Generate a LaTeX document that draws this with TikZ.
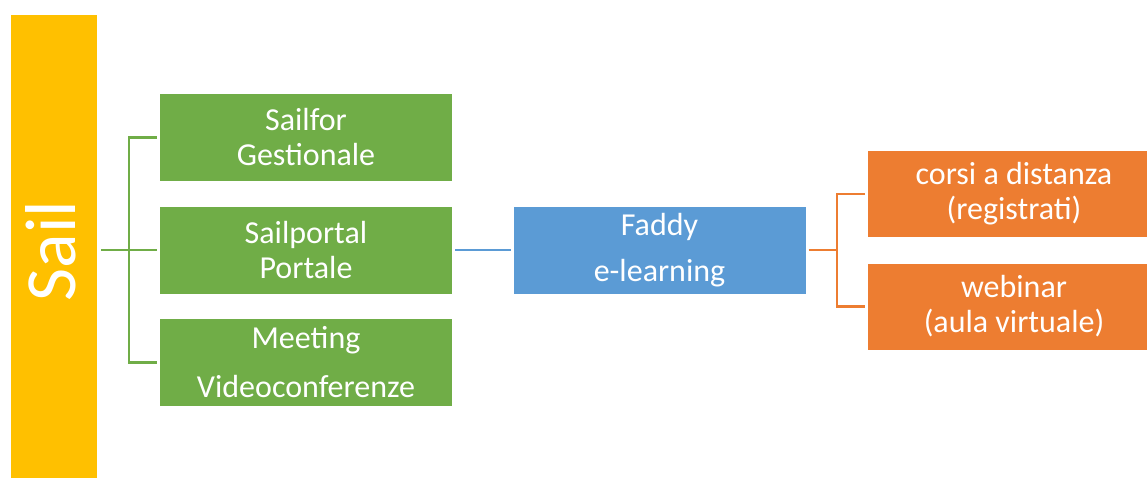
\documentclass[tikz,border=0pt]{standalone}
\usepackage{fontspec}
\setmainfont{Carlito}
\usetikzlibrary{positioning}
\definecolor{Y}{RGB}{255, 192, 0}
\definecolor{G}{RGB}{112, 173, 71}
\definecolor{B}{RGB}{91, 155, 213}
\definecolor{O}{RGB}{237, 125, 49}

\begin{document}
\begin{tikzpicture}[x=1pt,y=-1pt,
    caja/.style={fill=#1, text=white, minimum width=292pt, minimum height=87pt,
      inner sep=0pt, outer sep=3pt, align=center, font=\fontsize{32}{35}\selectfont},
    rama/.style={draw=#1, line width=2.5pt}]
   	\useasboundingbox (0,0) rectangle (1147,479);

	%Barra Sail
   	\node[fill=Y, minimum width=86pt, minimum height=463pt, inner sep=0pt, outer sep=4pt] (sail) at (54,246.5) {};
   	\node[rotate=90, text=white, font=\fontsize{72}{72}\selectfont, inner sep=0pt] (sailtxt) at (51,251) {Sail};

	%Cajas verdes
   	\node[caja=G] (sailfor) at (306,137.5) {Sailfor\\Gestionale};
   	\node[caja=G] (sailportal) at (306,250) {Sailportal\\Portale};
   	\node[caja=G] (meeting) at (306,362.5) {Meeting\\[14pt]Videoconferenze};

	%Caja azul
   	\node[caja=B] (faddy) at (659.5,250) {Faddy\\[11pt]e-learning};

	%Cajas naranja (cortadas por el borde)
   	\node[caja=O, minimum height=86pt] (corsi) at (1014,194) {corsi a distanza\\(registrati)};
   	\node[caja=O, minimum height=86pt] (webinar) at (1014,306.5) {webinar\\(aula virtuale)};

	%Ramas
   	\coordinate (gfork) at (129,250);
   	\coordinate (ofork) at (837,250);
   	\draw[rama=G] (sail.east |- sailportal.west) -- (sailportal.west);
   	\draw[rama=G] (sailfor.west) -| (gfork) |- (meeting.west);
   	\draw[rama=B] (sailportal.east) -- (faddy.west);
   	\draw[rama=O] (faddy.east) -- (ofork);
   	\draw[rama=O] (corsi.west) -| (ofork) |- (webinar.west);
\end{tikzpicture}
\end{document}
